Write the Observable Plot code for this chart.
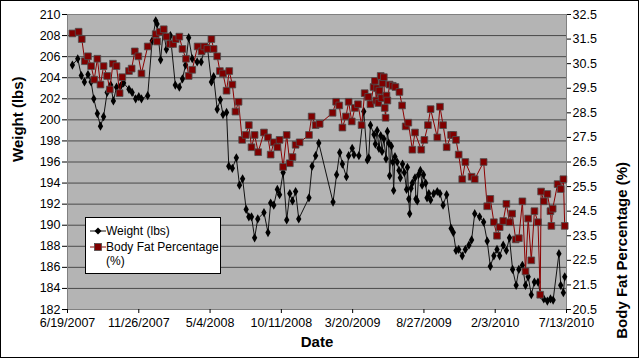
<!DOCTYPE html>
<html>
<head>
<meta charset="utf-8">
<script src="https://cdn.jsdelivr.net/npm/d3@7"></script>
<script src="https://cdn.jsdelivr.net/npm/@observablehq/plot@0.6"></script>
<style>
  html, body { margin: 0; padding: 0; background: #fff; }
  #wrap { position: relative; width: 640px; height: 360px; font-family: "Liberation Sans", Arial, sans-serif; }
  #border { position: absolute; left: 0; top: 0; width: 637px; height: 356px; border: 1.5px solid #000; pointer-events: none; }
  #legend { position: absolute; left: 85px; top: 217px; width: 134px; height: 55px; background: #fff; border: 1px solid #000; font-size: 12px; color: #000; }
  #legend .t { position: absolute; left: 20px; white-space: nowrap; line-height: 14px; }
  #legend svg { position: absolute; left: 3px; }
</style>
</head>
<body>
<div id="wrap"></div>
<script>
// Days since 6/19/2007
const weightDays = [
  11,23,31,38,46,53,59,67,74,81,
  89,97,103,110,119,126,138,145,153,160,
  166,180,190,198,201,209,215,222,231,242,
  251,258,265,272,280,291,300,307,314,323,
  328,336,343,349,357,362,370,379,386,393,
  401,407,413,420,427,441,450,456,463,471,
  476,484,492,499,505,512,519,542,549,557,
  564,596,604,611,617,626,631,639,643,654,
  665,673,676,680,688,691,695,699,703,706,
  710,715,718,721,723,727,730,732,735,740,
  744,747,752,756,761,763,766,768,771,774,
  780,782,785,788,792,796,799,804,807,811,
  815,822,830,836,843,851,861,866,872,878,
  886,893,901,907,914,925,934,942,949,957,
  964,970,978,985,992,999,1007,1013,1021,1028,
  1034,1041,1048,1056,1062,1069,1077,1084,1090,1103,
  1107,1113,1116
];
const weightLbs = [
  205.2,205.8,204.2,203.6,204.3,203.6,202.0,200.6,199.4,200.3,
  202.6,203.3,201.8,203.1,203.2,203.5,202.9,202.6,202.0,202.2,
  202.0,202.3,207.5,209.4,209.1,205.7,208.5,206.7,208.0,203.3,
  203.1,203.9,205.2,207.8,205.8,205.5,205.5,206.6,206.9,203.6,
  204.1,201.0,201.9,200.5,200.7,195.6,195.4,196.4,193.8,194.4,
  191.5,190.8,190.8,188.8,190.6,191.2,189.3,192.1,191.9,193.4,
  192.9,195.0,190.5,193.0,192.3,193.2,190.6,192.6,195.6,196.6,
  197.8,192.2,194.8,196.9,195.8,194.6,196.6,197.3,196.7,196.6,
  200.8,196.2,196.4,199.5,198.6,197.7,199.0,197.3,198.5,197.0,
  198.2,196.3,198.9,197.8,194.7,197.5,196.0,193.3,196.5,196.0,
  195.2,194.5,195.8,195.0,193.4,195.5,192.5,191.1,193.5,194.0,
  194.5,192.5,192.3,194.8,195.2,193.8,194.8,194.0,192.6,193.0,
  192.4,193.0,193.2,193.0,191.9,192.9,189.7,189.3,187.6,187.7,
  187.1,187.7,188.1,188.6,191.1,190.8,190.3,188.5,186.1,187.1,
  187.7,187.1,188.1,187.6,188.8,185.8,184.3,185.8,186.2,184.3,
  185.1,183.4,184.6,184.6,183.4,183.0,182.8,183.0,182.9,187.3,
  184.3,183.6,185.1
];
const fatDays = [
  11,25,32,39,46,53,60,67,74,81,
  89,95,102,110,117,123,138,144,151,159,
  166,180,198,201,207,216,222,230,237,243,
  251,258,266,272,280,292,301,307,314,323,
  328,336,342,349,357,363,370,377,384,392,
  400,407,413,420,428,441,450,456,463,471,
  476,484,492,499,505,512,521,542,548,557,
  566,595,603,610,617,625,631,638,645,652,
  660,667,675,680,687,690,693,695,698,700,
  703,705,707,710,712,714,716,718,723,730,
  736,745,751,759,765,774,780,794,801,809,
  815,830,836,843,851,861,866,872,878,886,
  893,907,914,934,942,949,957,964,970,978,
  985,992,998,1006,1013,1021,1028,1034,1041,1048,
  1056,1061,1063,1069,1077,1084,1086,1089,1100,1107,
  1113,1116
];
const fatPct = [
  31.73,31.8,31.5,30.6,30.8,30.4,29.85,30.7,29.65,30.4,
  30.0,29.45,30.5,30.4,29.3,29.95,30.2,30.3,31.0,30.8,
  30.1,31.2,31.7,31.4,31.8,31.9,31.6,31.3,31.3,31.5,
  31.6,31.1,30.7,30.0,30.25,31.2,31.0,31.2,31.1,31.5,
  31.1,30.8,30.2,30.1,29.4,30.2,29.65,28.55,28.95,27.4,
  27.6,28.0,27.1,27.6,26.9,27.7,27.5,26.8,27.3,27.1,
  27.4,26.3,27.6,26.45,26.7,27.2,27.3,27.6,28.35,28.0,
  28.05,28.5,28.95,28.8,27.9,28.35,28.95,28.15,28.7,28.85,
  28.0,29.3,29.15,28.85,29.55,29.8,29.0,29.5,28.9,29.4,
  30.0,29.1,29.7,29.95,28.7,28.3,29.2,29.0,29.65,29.6,
  29.55,29.35,28.8,27.95,28.1,27.0,27.7,27.0,27.4,28.0,
  28.65,27.5,28.75,28.0,27.1,27.6,27.6,27.4,26.8,25.8,
  26.5,25.9,25.8,26.5,24.7,25.0,24.05,23.5,23.85,24.1,
  24.8,24.05,24.4,23.35,23.4,24.9,22.05,24.2,22.5,24.5,
  24.05,21.1,25.3,24.9,25.2,24.5,23.9,24.6,25.6,25.4,
  25.8,23.9
];
const weightTicks = d3.range(182, 211, 2);
const fatTicks = d3.range(20.5, 32.6, 1);
const dateTickDays = d3.range(0, 1121, 160);

const base = Date.UTC(2007, 5, 19);
const toDate = d => new Date(base + d * 864e5);
const toW = p => 182 + (p - 20.5) * 28 / 12;
const fromW = w => 20.5 + (w - 182) * 12 / 28;
const fmtDate = d => `${d.getUTCMonth() + 1}/${d.getUTCDate()}/${d.getUTCFullYear()}`;

const weight = weightDays.map((d, i) => ({date: toDate(d), value: weightLbs[i]}));
const fat = fatDays.map((d, i) => ({date: toDate(d), value: toW(fatPct[i])}));

const chart = Plot.plot({
  width: 640, height: 360,
  marginLeft: 67, marginRight: 74, marginTop: 14, marginBottom: 51,
  style: {fontFamily: "'Liberation Sans', Arial, sans-serif", fontSize: "12.5px", color: "#000", background: "transparent"},
  x: {type: "utc", domain: [toDate(0), toDate(1120)]},
  y: {domain: [182, 210]},
  marks: [
    Plot.frame({fill: "#b4b4b4"}),
    Plot.gridY(weightTicks.slice(1, -1), {stroke: "#4a4a4a", strokeOpacity: 1}),
    Plot.frame({stroke: "#808080"}),
    Plot.axisY(weightTicks, {anchor: "left", tickSize: 5, tickPadding: 2, label: null}),
    Plot.axisY(fatTicks.map(toW), {anchor: "right", tickSize: 4, tickPadding: 2, tickFormat: w => fromW(w).toFixed(1), label: null}),
    Plot.axisX(dateTickDays.map(toDate), {tickSize: 4, tickPadding: 5, tickFormat: fmtDate, label: null}),
    Plot.text(["Weight (lbs)"], {frameAnchor: "left", dx: -49, rotate: -90, fontWeight: "bold", fontSize: 15}),
    Plot.text(["Body Fat Percentage (%)"], {frameAnchor: "right", dx: 56, rotate: -90, fontWeight: "bold", fontSize: 15}),
    Plot.text(["Date"], {frameAnchor: "bottom", dy: 37, fontWeight: "bold", fontSize: 15}),
    Plot.line(weight, {x: "date", y: "value", stroke: "#111", strokeWidth: 1}),
    Plot.dot(weight, {x: "date", y: "value", symbol: "diamond", r: 2.8, fill: "#000", stroke: "none"}),
    Plot.line(fat, {x: "date", y: "value", stroke: "#8b0000", strokeWidth: 1}),
    Plot.dot(fat, {x: "date", y: "value", symbol: "square", r: 3.8, fill: "#800000", stroke: "#4d4d4d", strokeWidth: 0.8})
  ]
});

const wrap = document.getElementById("wrap");
wrap.appendChild(chart);

const legend = document.createElement("div");
legend.id = "legend";
legend.innerHTML = `
  <svg width="18" height="10" style="top:8px"><line x1="1" y1="5" x2="17" y2="5" stroke="#111"/><path d="M9,1.5L12.5,5L9,8.5L5.5,5Z" fill="#000"/></svg>
  <div class="t" style="top:6px">Weight (lbs)</div>
  <svg width="18" height="10" style="top:24px"><line x1="1" y1="5" x2="17" y2="5" stroke="#8b0000"/><rect x="5.5" y="1.5" width="7" height="7" fill="#800000" stroke="#4d4d4d" stroke-width="0.8"/></svg>
  <div class="t" style="top:22px">Body Fat Percentage</div>
  <div class="t" style="top:36px">(%)</div>`;
wrap.appendChild(legend);

const border = document.createElement("div");
border.id = "border";
wrap.appendChild(border);
</script>
</body>
</html>
